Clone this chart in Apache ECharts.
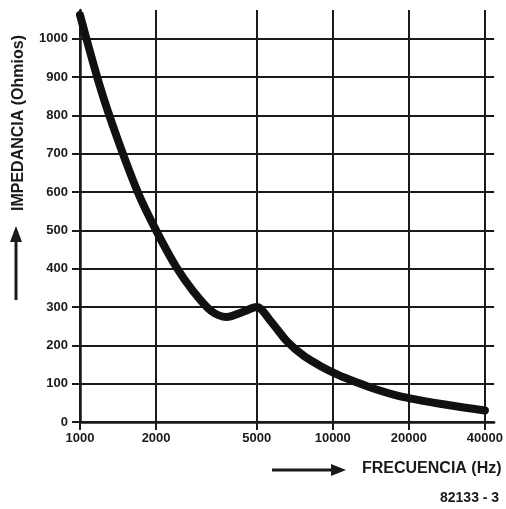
<!DOCTYPE html>
<html>
<head>
<meta charset="utf-8">
<script src="https://cdn.jsdelivr.net/npm/echarts@6/dist/echarts.min.js"></script>
<style>
  html, body { margin: 0; padding: 0; background: #fff; }
  #main { width: 506px; height: 509px; }
</style>
</head>
<body>
<div id="main"></div>
<script>
// curva de impedancia
var freq = [1000, 1200, 1400, 1700, 2000, 2400, 2800, 3300, 3800, 4400, 5000, 5700, 6600, 7700, 9000, 10500, 12500, 15000, 18000, 22000, 27000, 33000, 40000];
var imp = [1062, 875, 743, 597, 500, 405, 342, 290, 274, 287, 300, 262, 210, 172, 145, 123, 103, 84, 69, 57, 47, 38, 30];

var xTicks = [1000, 2000, 5000, 10000, 20000, 40000];
var yTicks = [0, 100, 200, 300, 400, 500, 600, 700, 800, 900, 1000];

var font = 'Liberation Sans, Arial, sans-serif';
var ink = '#1a1a1a';

function SetData(xs, ys) {
    var out = [];
    for (var i = 0; i < xs.length; i++) {
        out.push([xs[i], ys[i]]);
    }
    return out;
}

function plain(v) {
    return String(Math.round(v));
}

var option = {
    animation: false,
    backgroundColor: '#fff',
    grid: { left: 80, right: 11, top: 10, bottom: 87 },
    xAxis: {
        type: 'log',
        min: 1000,
        max: 43500,
        axisLine: { show: true, lineStyle: { color: ink, width: 2.5 } },
        axisTick: { show: true, customValues: xTicks, length: 8, lineStyle: { color: ink, width: 2 } },
        axisLabel: {
            customValues: xTicks, formatter: plain, color: ink, fontFamily: font, fontWeight: 'bold',
            fontSize: 13, margin: 10, showMaxLabel: true, showMinLabel: true
        },
        splitLine: { show: true, lineStyle: { color: ink, width: 2 } },
        minorSplitLine: { show: false }
    },
    yAxis: {
        type: 'value',
        min: 0,
        max: 1075,
        axisLine: { show: true, lineStyle: { color: ink, width: 2.5 } },
        axisTick: { show: true, customValues: yTicks, length: 8, lineStyle: { color: ink, width: 2 } },
        axisLabel: {
            customValues: yTicks, formatter: plain, color: ink, fontFamily: font, fontWeight: 'bold',
            fontSize: 13, margin: 12
        },
        splitLine: { show: true, lineStyle: { color: ink, width: 1.8 } }
    },
    graphic: [
        {
            type: 'text',
            rotation: Math.PI / 2,
            x: 11, y: 211,
            style: { text: 'IMPEDANCIA (Ohmios)', fill: ink, font: 'bold 16px ' + font }
        },
        {
            type: 'line', shape: { x1: 16, y1: 300, x2: 16, y2: 240 },
            style: { stroke: ink, lineWidth: 3 }
        },
        {
            type: 'polygon', shape: { points: [[10, 242], [22, 242], [16, 226]] },
            style: { fill: ink }
        },
        {
            type: 'line', shape: { x1: 272, y1: 470, x2: 333, y2: 470 },
            style: { stroke: ink, lineWidth: 3 }
        },
        {
            type: 'polygon', shape: { points: [[331, 464], [331, 476], [346, 470]] },
            style: { fill: ink }
        },
        {
            type: 'text', x: 362, y: 461,
            style: { text: 'FRECUENCIA (Hz)', fill: ink, font: 'bold 16px ' + font }
        },
        {
            type: 'text', x: 440, y: 491,
            style: { text: '82133 - 3', fill: ink, font: 'bold 14px ' + font }
        }
    ],
    series: [{
        type: 'line',
        data: SetData(freq, imp),
        smooth: 0.3,
        showSymbol: false,
        lineStyle: { color: '#111', width: 8, cap: 'round', join: 'round' },
        z: 5
    }]
};

echarts.init(document.getElementById('main')).setOption(option);
</script>
</body>
</html>
